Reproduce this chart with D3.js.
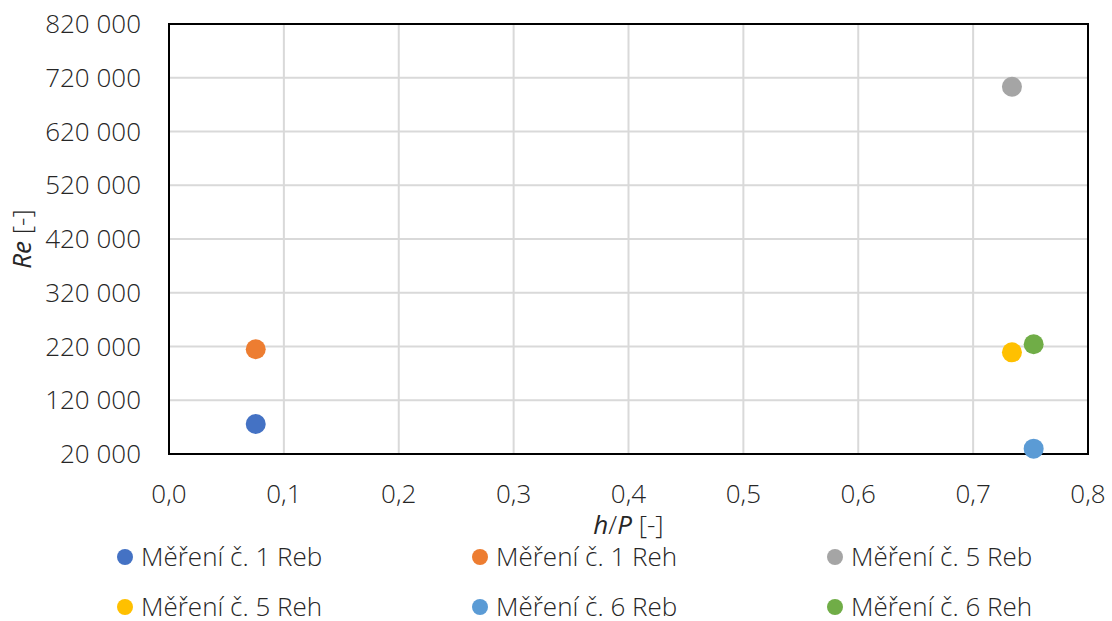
<!DOCTYPE html>
<html><head><meta charset="utf-8">
<script src="https://cdn.jsdelivr.net/npm/d3@7"></script>
<style>body{margin:0;background:#fff;} text{font-family:"Open Sans",sans-serif;font-weight:300;}</style>
</head><body>
<svg id="c" width="1112" height="621"></svg>
<script>
const seriesNames = ["Měření č. 1 Reb","Měření č. 1 Reh","Měření č. 5 Reb","Měření č. 5 Reh","Měření č. 6 Reb","Měření č. 6 Reh"];
const seriesColors = ["#4472c4","#ed7d31","#a5a5a5","#ffc000","#5b9bd5","#70ad47"];
const xValues = [0.0755,0.0755,0.7338,0.7338,0.7527,0.7527];
const yValues = [75800,214800,703300,209200,29900,224100];
const xTicks = [0,0.1,0.2,0.3,0.4,0.5,0.6,0.7,0.8];
const yTicks = [20000,120000,220000,320000,420000,520000,620000,720000,820000];

const svg = d3.select("#c");
const L=169,R=1088,T=24,B=454;
const x = d3.scaleLinear().domain([0,0.8]).range([L,R]);
const y = d3.scaleLinear().domain([20000,820000]).range([B,T]);
const txt="#262626";
const fs=26;

// grid
svg.append("g").selectAll("line").data(xTicks).join("line")
  .attr("x1",d=>x(d)).attr("x2",d=>x(d)).attr("y1",T).attr("y2",B)
  .attr("stroke","#d9d9d9").attr("stroke-width",2);
svg.append("g").selectAll("line").data(yTicks).join("line")
  .attr("y1",d=>y(d)).attr("y2",d=>y(d)).attr("x1",L).attr("x2",R)
  .attr("stroke","#d9d9d9").attr("stroke-width",2);
svg.append("rect").attr("x",L).attr("y",T).attr("width",R-L).attr("height",B-T)
  .attr("fill","none").attr("stroke","#000").attr("stroke-width",2);

const fmtY = d=> d3.format(",")(d).replace(/,/g," ");
svg.append("g").selectAll("text").data(yTicks).join("text")
  .attr("x",141).attr("y",d=>y(d)).attr("dy","0.35em").attr("text-anchor","end")
  .attr("font-size",fs).attr("fill",txt).text(fmtY);
svg.append("g").selectAll("text").data(xTicks).join("text")
  .attr("x",d=>x(d)).attr("y",494).attr("dy","0.35em").attr("text-anchor","middle")
  .attr("font-size",fs).attr("fill",txt).text(d=>d.toFixed(1).replace(".",","));

// axis titles
const yt = svg.append("text").attr("transform","translate(31,"+((T+B)/2)+") rotate(-90)")
  .attr("text-anchor","middle").attr("font-size",fs).attr("fill",txt);
yt.append("tspan").attr("font-style","italic").attr("font-weight",400).text("Re");
yt.append("tspan").text(" [-]");
const xt = svg.append("text").attr("x",(L+R)/2).attr("y",525).attr("dy","0.35em")
  .attr("text-anchor","middle").attr("font-size",fs).attr("fill",txt);
xt.append("tspan").attr("font-style","italic").attr("font-weight",400).text("h");
xt.append("tspan").text("/");
xt.append("tspan").attr("font-style","italic").attr("font-weight",400).text("P");
xt.append("tspan").text(" [-]");

// points
svg.append("g").selectAll("circle").data(seriesNames).join("circle")
  .attr("cx",(d,i)=>x(xValues[i])).attr("cy",(d,i)=>y(yValues[i])).attr("r",10)
  .attr("fill",(d,i)=>seriesColors[i]);

// legend
const lg = svg.append("g").selectAll("g").data(seriesNames).join("g")
  .attr("transform",(d,i)=>`translate(${125+355*(i%3)},${557+50*Math.floor(i/3)})`);
lg.append("circle").attr("r",8).attr("fill",(d,i)=>seriesColors[i]);
lg.append("text").attr("x",16).attr("dy","0.35em").attr("font-size",fs).attr("fill",txt).text(d=>d);
</script>
</body></html>
